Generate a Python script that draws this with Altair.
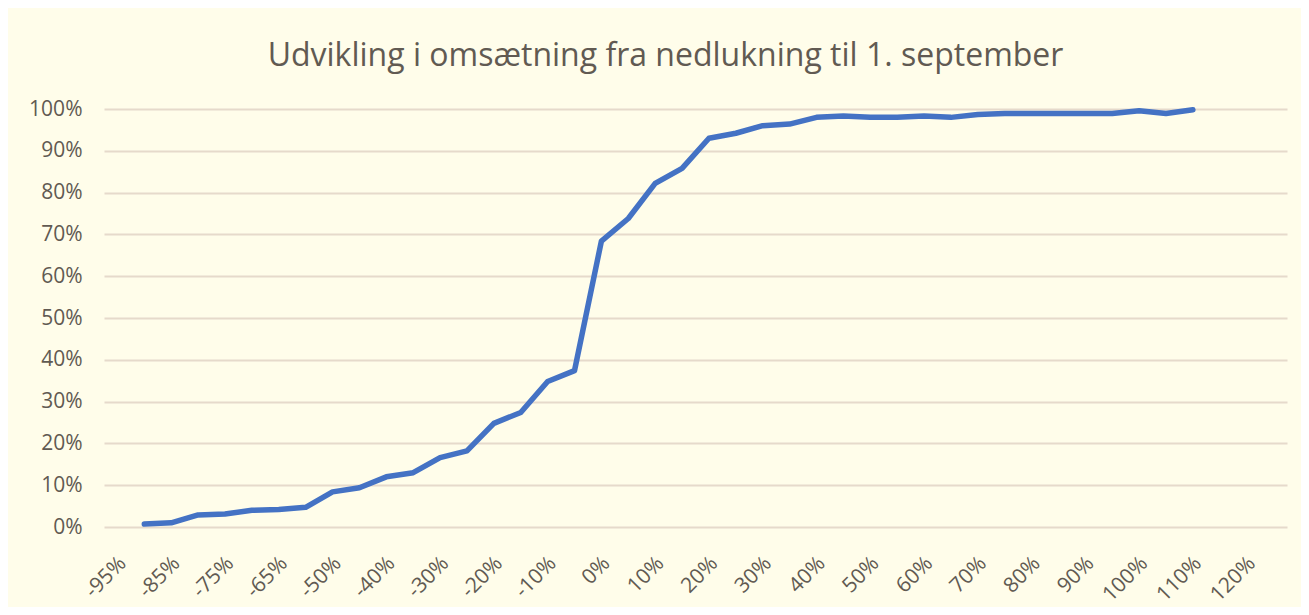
import altair as alt
import pandas as pd

# Category axis (every other label is shown, as in the reference)
categories = ["-95%", "-90%", "-85%", "-80%", "-75%", "-70%", "-65%", "-60%",
              "-50%", "-45%", "-40%", "-35%", "-30%", "-25%", "-20%", "-15%",
              "-10%", "-5%", "0%", "5%", "10%", "15%", "20%", "25%", "30%",
              "35%", "40%", "45%", "50%", "55%", "60%", "65%", "70%", "75%",
              "80%", "85%", "90%", "95%", "100%", "105%", "110%", "115%",
              "120%", "125%"]

# Series categories (-90% .. 110%) and cumulative share in percent
series_categories = categories[1:41]
shares = [0.7, 1.0, 2.9, 3.1, 4.0, 4.2, 4.7, 8.4, 9.4, 12.0,
          13.0, 16.6, 18.2, 24.8, 27.4, 34.8, 37.4, 68.4, 73.8, 82.2,
          85.8, 93.0, 94.2, 96.0, 96.4, 98.0, 98.3, 98.0, 98.0, 98.3,
          98.0, 98.7, 98.9, 98.9, 98.9, 98.9, 98.9, 99.6, 98.9, 99.8]

title_text = "Udvikling i omsætning fra nedlukning til 1. september"

df = pd.DataFrame({"kategori": series_categories,
                   "andel": [v / 100 for v in shares]})

FONT = "Open Sans"
TEXT = "#615a52"
GRID = "#e6dacb"

chart = alt.Chart(df).mark_line(
    color="#4472c4", strokeWidth=5.5, strokeCap="round", strokeJoin="round"
).encode(
    x=alt.X("kategori:O",
            scale=alt.Scale(type="point", domain=categories, padding=0.5),
            axis=alt.Axis(title=None, values=categories[::2], labelAngle=-45,
                          labelAlign="right", labelBaseline="middle",
                          labelPadding=33, labelOffset=5, ticks=False,
                          domain=False, grid=False, labelFontSize=21,
                          labelFont=FONT, labelColor=TEXT)),
    y=alt.Y("andel:Q",
            scale=alt.Scale(domain=[0, 1], nice=False),
            axis=alt.Axis(title=None, format=".0%", values=[i / 10 for i in range(11)],
                          ticks=False, domain=False, gridColor=GRID, gridWidth=2,
                          labelPadding=22, labelFontSize=21, labelFont=FONT,
                          labelColor=TEXT)),
).properties(
    width=1183,
    height=418,
    autosize=alt.AutoSizeParams(type="none"),
    padding={"left": 96, "top": 101, "right": 14, "bottom": 80},
    title=alt.TitleParams(title_text, anchor="middle", font=FONT, fontSize=32,
                          fontWeight="normal", color=TEXT, offset=40,
                          baseline="alphabetic", dx=-30, dy=40),
    background="#fffdea",
).configure_view(stroke=None)

chart.save("out.html", embed_options={"renderer": "svg", "actions": False})
